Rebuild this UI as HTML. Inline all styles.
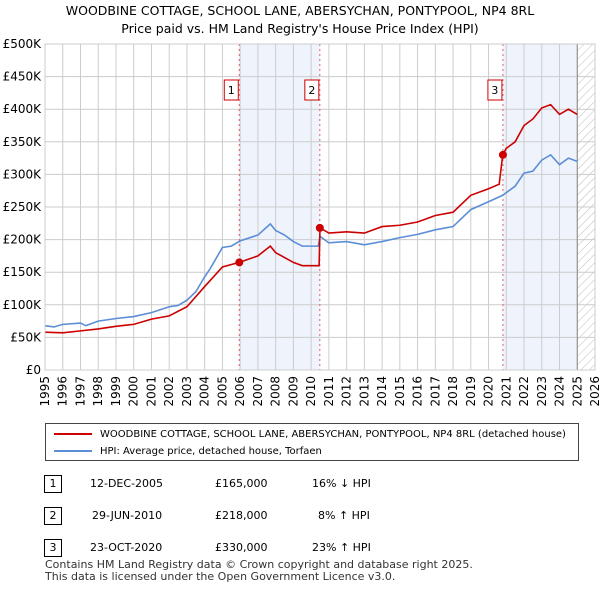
<!DOCTYPE html>
<html><head><meta charset="utf-8"><style>
body{margin:0;width:600px;height:590px;background:#fff;font-family:"DejaVu Sans","Liberation Sans",sans-serif;overflow:hidden;position:relative}
.t{position:absolute;font-size:12px;color:#000;white-space:nowrap}
.box{position:absolute;border:1px solid #000;width:16px;height:16px;font-size:11px;text-align:center;line-height:16px}
</style></head><body>
<div class="t" style="left:0;width:600px;text-align:center;top:2px;font-size:12.5px;line-height:18px">WOODBINE COTTAGE, SCHOOL LANE, ABERSYCHAN, PONTYPOOL, NP4 8RL<br>Price paid vs. HM Land Registry's House Price Index (HPI)</div>
<svg id="c" width="600" height="420" style="position:absolute;left:0;top:0" font-family="DejaVu Sans, Liberation Sans, sans-serif"></svg>
<div style="position:absolute;left:45px;top:423px;width:532px;height:36px;border:1px solid #444;font-size:10px;white-space:nowrap">
<div style="position:absolute;left:8px;top:5px"><span style="display:inline-block;width:38px;height:2px;background:#cc0000;vertical-align:middle;margin-right:8px"></span>WOODBINE COTTAGE, SCHOOL LANE, ABERSYCHAN, PONTYPOOL, NP4 8RL (detached house)</div>
<div style="position:absolute;left:8px;top:22px"><span style="display:inline-block;width:38px;height:2px;background:#5b8ed6;vertical-align:middle;margin-right:8px"></span>HPI: Average price, detached house, Torfaen</div>
</div>
<div style="font-size:11px">
<div class="box" style="left:44px;top:475px">1</div><div class="t" style="left:90px;top:477px;font-size:11px">12-DEC-2005</div><div class="t" style="left:215px;top:477px;font-size:11px">£165,000</div><div class="t" style="left:312px;top:477px;font-size:11px">16% ↓ HPI</div>
<div class="box" style="left:44px;top:507px">2</div><div class="t" style="left:92px;top:509px;font-size:11px">29-JUN-2010</div><div class="t" style="left:215px;top:509px;font-size:11px">£218,000</div><div class="t" style="left:318px;top:509px;font-size:11px">8% ↑ HPI</div>
<div class="box" style="left:44px;top:539px">3</div><div class="t" style="left:90px;top:541px;font-size:11px">23-OCT-2020</div><div class="t" style="left:215px;top:541px;font-size:11px">£330,000</div><div class="t" style="left:312px;top:541px;font-size:11px">23% ↑ HPI</div>
</div>
<div class="t" style="left:45px;top:559px;font-size:11px;line-height:12px;color:#333">Contains HM Land Registry data © Crown copyright and database right 2025.<br>This data is licensed under the Open Government Licence v3.0.</div>
<script>
const hpiX=[1995,1995.5,1996,1997,1997.3,1998,1999,2000,2001,2002,2002.5,2003,2003.5,2004,2004.3,2005,2005.5,2006,2007,2007.7,2008,2008.5,2009,2009.5,2010.4,2010.5,2011,2012,2013,2014,2015,2016,2017,2018,2019,2020,2020.8,2021.5,2022,2022.5,2023,2023.5,2024,2024.5,2025];
const hpiY=[68,66,70,72,68,75,79,82,88,97,99,107,120,143,155,188,190,198,207,224,214,207,197,190,190,205,195,197,192,197,203,208,215,220,246,258,268,282,302,305,322,330,315,325,320];
const ppX=[1995,1996,1997,1998,1999,2000,2001,2002,2003,2004,2005,2005.95,2007,2007.7,2008,2009,2009.5,2010.45,2010.5,2011,2012,2013,2014,2015,2016,2017,2018,2019,2020,2020.6,2020.8,2021,2021.5,2022,2022.5,2023,2023.5,2024,2024.5,2025];
const ppY=[58,57,60,63,67,70,78,83,97,128,158,165,175,190,180,165,160,160,218,210,212,210,220,222,227,237,242,268,278,285,330,340,350,375,385,402,407,392,400,392];
const saleX=[2005.95,2010.49,2020.81];
const saleY=[165,218,330];
const yTicks=[0,50,100,150,200,250,300,350,400,450,500];
const xTicks=[1995,1996,1997,1998,1999,2000,2001,2002,2003,2004,2005,2006,2007,2008,2009,2010,2011,2012,2013,2014,2015,2016,2017,2018,2019,2020,2021,2022,2023,2024,2025,2026];
const X0=45,X1=595,Y0=370,Y1=44;
const sx=v=>X0+(v-1995)/31*(X1-X0), sy=v=>Y0-v/500*(Y0-Y1);
const svg=document.getElementById('c');const NS='http://www.w3.org/2000/svg';
function el(t,a,p){const e=document.createElementNS(NS,t);for(const k in a)e.setAttribute(k,a[k]);(p||svg).appendChild(e);return e;}
const defs=el('defs',{});const pat=el('pattern',{id:'h',width:6,height:6,patternUnits:'userSpaceOnUse',patternTransform:'rotate(45)'},defs);el('line',{x1:0,y1:0,x2:0,y2:6,stroke:'#bbb','stroke-width':1},pat);
let r=el('rect',{x:sx(saleX[0]),y:Y1,width:sx(saleX[1])-sx(saleX[0]),height:Y0-Y1,fill:'#eef3fc'});

r=el('rect',{x:sx(saleX[2]),y:Y1,width:sx(2025)-sx(saleX[2]),height:Y0-Y1,fill:'#eef3fc'});

r=el('rect',{x:sx(2025),y:Y1,width:X1-sx(2025),height:Y0-Y1,fill:'url(#h)'});

yTicks.forEach(v=>{const l=el('line',{x1:X0,x2:X1,y1:sy(v),y2:sy(v),stroke:'#ccc'});
const t=el('text',{x:X0-4,y:sy(v)+4,'text-anchor':'end','font-size':12});t.textContent=v?'£'+v+'K':'£0';});
xTicks.forEach(v=>{const l=el('line',{x1:sx(v),x2:sx(v),y1:Y1,y2:Y0,stroke:'#ccc'});
const t=el('text',{x:sx(v)+4,y:Y0+6,'text-anchor':'end','font-size':12,transform:`rotate(-90 ${sx(v)+4} ${Y0+6})`});t.textContent=v;});
el('line',{x1:sx(2025),x2:sx(2025),y1:Y1,y2:Y0,stroke:'#888'});
saleX.forEach((v,i)=>{const l=el('line',{x1:sx(v),x2:sx(v),y1:Y1,y2:Y0,stroke:'#e06060','stroke-dasharray':'2,3'});
const b=el('rect',{x:sx(v)-15,y:80,width:14,height:20,fill:'#fff',stroke:'#cc0000'});
const t=el('text',{x:sx(v)-8,y:94,'text-anchor':'middle','font-size':11});t.textContent=i+1;});
const line=(xs,ys,c,n)=>{const p=el('polyline',{points:xs.map((x,i)=>sx(x)+','+sy(ys[i])).join(' '),fill:'none',stroke:c,'stroke-width':1.6});};
line(hpiX,hpiY,'#5b8ed6','hpi-line');line(ppX,ppY,'#cc0000','price-paid-line');
saleX.forEach((v,i)=>{const c=el('circle',{cx:sx(v),cy:sy(saleY[i]),r:4,fill:'#cc0000'});});
el('rect',{x:X0,y:Y1,width:X1-X0,height:Y0-Y1,fill:'none',stroke:'#ccc'});
</script>
</body></html>
